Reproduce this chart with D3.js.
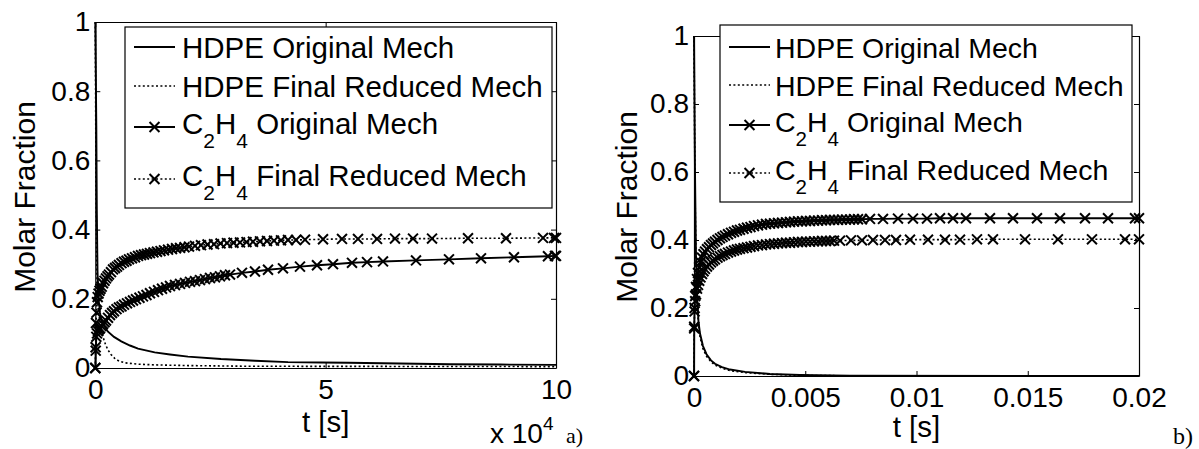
<!DOCTYPE html>
<html>
<head>
<meta charset="utf-8">
<script src="https://cdn.jsdelivr.net/npm/d3@7"></script>
<style>
  body { margin: 0; background: #fff; }
  svg { display: block; font-family: "Liberation Sans", Arial, Helvetica, sans-serif; }
</style>
</head>
<body>
<svg id="chart" width="1199" height="449"></svg>
<script>
// ---- panel a) : t in seconds (0 .. 1e5) ----
const aHdpeOrig = [[0,1],[110,0.85],[220,0.7],[330,0.45],[480,0.28],[700,0.2],[1020,0.16],[1300,0.139],[1890,0.122],[2760,0.105],[4060,0.09],[5640,0.077],[7530,0.065],[9270,0.056],[12890,0.045],[16210,0.039],[20120,0.033],[27290,0.026],[34660,0.021],[41830,0.017],[48990,0.016],[54850,0.015],[66140,0.013],[76990,0.011],[87840,0.01],[100000,0.009]];
const aHdpeRed = [[0,1],[65,0.8],[150,0.55],[280,0.33],[430,0.21],[650,0.17],[960,0.139],[1300,0.112],[1670,0.09],[2210,0.068],[2760,0.052],[3410,0.039],[4210,0.028],[5140,0.02],[6380,0.015],[9270,0.011],[12890,0.009],[20120,0.007],[33580,0.005],[100000,0.004]];
const aC2h4Orig = [[0,0],[90,0.05],[220,0.09],[370,0.1],[590,0.107],[800,0.112],[1020,0.115],[1350,0.121],[1670,0.127],[2000,0.132],[2320,0.137],[2760,0.145],[3190,0.153],[3630,0.159],[4060,0.164],[4600,0.17],[5140,0.175],[5690,0.178],[6230,0.183],[6880,0.187],[7530,0.191],[8180,0.195],[8830,0.199],[9590,0.203],[10350,0.207],[11110,0.211],[11870,0.216],[12740,0.22],[13610,0.225],[14480,0.229],[15350,0.233],[16210,0.237],[17300,0.24],[18390,0.243],[19470,0.246],[20560,0.249],[21640,0.251],[22730,0.254],[23810,0.257],[24900,0.26],[25980,0.262],[27070,0.265],[28150,0.268],[29240,0.27],[31840,0.275],[34660,0.279],[37490,0.284],[40740,0.288],[44430,0.293],[48120,0.297],[51600,0.3],[55720,0.304],[58980,0.306],[62450,0.308],[69610,0.311],[76770,0.314],[83720,0.317],[90880,0.32],[98260,0.323],[99780,0.324],[100000,0.324]];
const aC2h4Red = [[0,0],[65,0.06],[150,0.13],[260,0.16],[370,0.19],[520,0.205],[700,0.215],[910,0.223],[1130,0.229],[1390,0.235],[1670,0.245],[2000,0.252],[2320,0.259],[2650,0.265],[2970,0.27],[3410,0.277],[3840,0.285],[4280,0.289],[4710,0.293],[5140,0.298],[5690,0.303],[6230,0.307],[6770,0.31],[7320,0.314],[7970,0.317],[8620,0.32],[9270,0.324],[9920,0.326],[10570,0.328],[11220,0.33],[11870,0.332],[12630,0.334],[13390,0.336],[14150,0.338],[14910,0.34],[15780,0.342],[16650,0.344],[17520,0.346],[18390,0.347],[19360,0.349],[20340,0.351],[21640,0.353],[22940,0.355],[24360,0.357],[25770,0.358],[27180,0.36],[28590,0.361],[30000,0.362],[31410,0.363],[32820,0.364],[34230,0.365],[35750,0.366],[37270,0.367],[38790,0.368],[40310,0.369],[41830,0.37],[43570,0.37],[45520,0.371],[49430,0.372],[53550,0.373],[57020,0.373],[61150,0.373],[65050,0.374],[68960,0.374],[73090,0.374],[80900,0.375],[89150,0.375],[97180,0.376],[99570,0.376],[100000,0.376]];

// ---- panel b) : t in seconds (0 .. 0.02) ----
const bHdpeOrig = [[0,1],[0.000045,0.6],[0.00009,0.35],[0.000135,0.24],[0.000202,0.16],[0.00027,0.125],[0.000404,0.088],[0.000562,0.064],[0.000764,0.046],[0.000944,0.036],[0.001258,0.026],[0.001618,0.019],[0.002292,0.012],[0.003416,0.006],[0.004764,0.003],[0.00701,0.001],[0.02,0]];
const bHdpeRed = [[0,1],[0.000045,0.55],[0.00009,0.32],[0.000135,0.22],[0.000202,0.15],[0.00027,0.115],[0.000404,0.08],[0.000562,0.058],[0.000764,0.042],[0.000944,0.032],[0.001258,0.023],[0.001618,0.016],[0.002292,0.01],[0.003416,0.005],[0.004764,0.002],[0.00701,0.0005],[0.02,0]];
const bC2h4Orig = [[0,0],[0.000009,0.145],[0.000027,0.2],[0.000054,0.235],[0.00009,0.262],[0.000135,0.285],[0.00018,0.303],[0.000234,0.32],[0.000292,0.335],[0.00036,0.348],[0.000427,0.358],[0.000494,0.366],[0.000584,0.373],[0.000674,0.379],[0.000764,0.385],[0.000854,0.39],[0.000944,0.395],[0.001056,0.4],[0.001168,0.405],[0.001281,0.409],[0.001393,0.413],[0.001528,0.417],[0.001663,0.421],[0.001798,0.424],[0.001932,0.428],[0.002067,0.43],[0.002225,0.433],[0.002382,0.436],[0.002539,0.438],[0.002697,0.441],[0.002876,0.443],[0.003056,0.445],[0.003236,0.447],[0.003416,0.448],[0.003595,0.449],[0.003775,0.45],[0.003955,0.451],[0.004135,0.452],[0.004314,0.453],[0.004494,0.454],[0.004674,0.455],[0.004854,0.455],[0.005033,0.456],[0.005213,0.456],[0.005393,0.457],[0.005573,0.457],[0.005752,0.458],[0.005932,0.458],[0.006112,0.459],[0.006292,0.459],[0.006471,0.459],[0.006651,0.46],[0.006831,0.46],[0.007011,0.46],[0.00719,0.461],[0.00737,0.461],[0.00755,0.461],[0.00791,0.462],[0.008494,0.462],[0.009168,0.463],[0.009842,0.463],[0.010472,0.463],[0.011056,0.464],[0.01164,0.464],[0.012224,0.464],[0.013303,0.464],[0.014337,0.464],[0.015415,0.464],[0.016449,0.464],[0.017573,0.464],[0.018607,0.464],[0.01982,0.464],[0.02,0.464]];
const bC2h4Red = [[0,0],[0.000009,0.14],[0.000027,0.19],[0.000054,0.22],[0.00009,0.24],[0.000135,0.257],[0.00018,0.268],[0.000234,0.28],[0.000292,0.29],[0.00036,0.3],[0.000427,0.308],[0.000494,0.315],[0.000584,0.322],[0.000674,0.328],[0.000764,0.334],[0.000854,0.339],[0.000944,0.343],[0.001056,0.348],[0.001168,0.352],[0.001281,0.356],[0.001393,0.359],[0.001528,0.363],[0.001663,0.366],[0.001798,0.369],[0.001932,0.372],[0.002067,0.374],[0.002225,0.376],[0.002382,0.378],[0.002539,0.38],[0.002697,0.382],[0.002876,0.384],[0.003056,0.385],[0.003236,0.387],[0.003416,0.388],[0.003595,0.389],[0.003775,0.39],[0.003955,0.391],[0.004135,0.392],[0.004314,0.392],[0.004494,0.393],[0.004674,0.394],[0.004854,0.394],[0.005033,0.395],[0.005213,0.395],[0.005393,0.396],[0.005573,0.396],[0.005752,0.397],[0.005932,0.397],[0.006112,0.397],[0.006292,0.398],[0.006562,0.398],[0.007056,0.399],[0.00755,0.399],[0.008044,0.4],[0.008584,0.4],[0.009078,0.4],[0.009708,0.401],[0.010517,0.401],[0.01128,0.401],[0.011955,0.401],[0.012718,0.402],[0.013437,0.402],[0.014876,0.402],[0.016358,0.402],[0.017887,0.402],[0.019371,0.402],[0.02,0.402]];

// ---- ticks and labels ----
const yTicks = [0, 0.2, 0.4, 0.6, 0.8, 1];
const yTickLabels = ["0", "0.2", "0.4", "0.6", "0.8", "1"];
const aXTicks = [0, 50000, 100000];
const aXTickLabels = ["0", "5", "10"];
const bXTicks = [0, 0.005, 0.01, 0.015, 0.02];
const bXTickLabels = ["0", "0.005", "0.01", "0.015", "0.02"];
const legendNames = ["HDPE Original Mech", "HDPE Final Reduced Mech", "C_2H_4 Original Mech", "C_2H_4 Final Reduced Mech"];

const FS = 28;        // tick labels
const FS_TEXT = 29.5; // axis titles
const svg = d3.select("#chart");

// x marker, like MATLAB 'x'
const xMarker = d3.symbol().type(d3.symbolTimes).size(66);

function styleSeries(sel, dotted) {
	return sel.attr("fill", "none")
			  .attr("stroke", "#000")
			  .attr("stroke-width", dotted ? 1.6 : 1.9)
			  .attr("stroke-dasharray", dotted ? "2,2.4" : null);
}

function drawPanel(p) {
	const g = svg.append("g");

	const x = d3.scaleLinear().domain(p.xDomain).range([p.left, p.right]);
	const y = d3.scaleLinear().domain([0, 1]).range([p.bottom, p.top]);

	const line = d3.line().x(d => x(d[0])).y(d => y(d[1]));

	// curves
	p.series.forEach(s => {
		styleSeries(g.append("path").datum(s.data).attr("d", line), s.dotted);
		if (s.marker) {
			g.append("g").selectAll("path")
			 .data(s.data)
			 .join("path")
			 .attr("transform", d => `translate(${x(d[0])},${y(d[1])})`)
			 .attr("d", xMarker)
			 .attr("fill", "none")
			 .attr("stroke", "#000")
			 .attr("stroke-width", 2);
		}
	});

	// axes box, MATLAB-style inward ticks
	const tick = 5;
	const bottom = d3.axisBottom(x).tickValues(p.xTicks)
					 .tickFormat((d, i) => p.xTickLabels[i])
					 .tickSizeInner(-tick).tickSizeOuter(0).tickPadding(11);
	const top = d3.axisTop(x).tickValues(p.xTicks)
				  .tickSizeInner(-tick).tickSizeOuter(0);
	const left = d3.axisLeft(y).tickValues(yTicks)
				   .tickFormat((d, i) => yTickLabels[i])
				   .tickSizeInner(-tick).tickSizeOuter(0).tickPadding(5);
	const right = d3.axisRight(y).tickValues(yTicks)
					.tickSizeInner(-tick).tickSizeOuter(0);

	const labelled = [
		g.append("g").attr("transform", `translate(0,${p.bottom})`).call(bottom),
		g.append("g").attr("transform", `translate(${p.left},0)`).call(left)
	];
	const plain = [
		g.append("g").attr("transform", `translate(0,${p.top})`).call(top),
		g.append("g").attr("transform", `translate(${p.right},0)`).call(right)
	];
	// top and right axes carry ticks only
	plain.forEach(a => a.selectAll(".tick text").remove());

	labelled.concat(plain).forEach(a => {
		a.attr("font-family", null).attr("font-size", null);
		a.select(".domain").attr("stroke", "#000").attr("stroke-width", 1.2);
		a.selectAll(".tick line").attr("stroke", "#000").attr("stroke-width", 1);
		a.selectAll(".tick text").attr("fill", "#000").style("font-size", FS + "px");
	});

	// axis titles
	g.append("text")
	 .attr("transform", `translate(${p.yLabelX},${(p.top + p.bottom) / 2 + p.yLabelShift}) rotate(-90)`)
	 .attr("text-anchor", "middle")
	 .attr("dominant-baseline", "central")
	 .style("font-size", "30px")
	 .text("Molar Fraction");

	g.append("text")
	 .attr("x", (p.left + p.right) / 2)
	 .attr("y", p.xLabelY)
	 .attr("text-anchor", "middle")
	 .style("font-size", FS_TEXT + "px")
	 .text("t [s]");

	// legend
	const lg = g.append("g");
	lg.append("rect")
	  .attr("x", p.legend.x).attr("y", p.legend.y)
	  .attr("width", p.legend.w).attr("height", p.legend.h)
	  .attr("fill", "#fff").attr("stroke", "#000").attr("stroke-width", 1.2);

	p.series.forEach((s, i) => {
		const ly = p.legend.rows[i];
		const x0 = p.legend.x + 9, x1 = p.legend.x + 50;
		styleSeries(lg.append("line").attr("x1", x0).attr("x2", x1).attr("y1", ly).attr("y2", ly), s.dotted);
		if (s.marker) {
			lg.append("path")
			  .attr("transform", `translate(${(x0 + x1) / 2},${ly})`)
			  .attr("d", xMarker)
			  .attr("fill", "none").attr("stroke", "#000").attr("stroke-width", 2);
		}
		const hasSub = legendNames[i].includes("_");
		const t = lg.append("text")
					.attr("x", p.legend.x + p.legend.textDx)
					.attr("y", ly + (hasSub ? 7 : 10.5))
					.style("font-size", p.legend.fs + "px");
		// split "_2" style subscripts; the tspan after a subscript climbs back up
		let back = 0;
		legendNames[i].split(/(_\d)/).filter(part => part.length).forEach(part => {
			if (part.startsWith("_")) {
				t.append("tspan").attr("dy", 14 + back).style("font-size", p.legend.subFs + "px").text(part.slice(1));
				back = -14;
			} else {
				t.append("tspan").attr("dy", back).text(part);
				back = 0;
			}
		});
	});
}

drawPanel({
	xDomain: [0, 100000], left: 95.3, right: 556, top: 22, bottom: 368,
	xTicks: aXTicks, xTickLabels: aXTickLabels,
	yLabelX: 24, yLabelShift: 2, xLabelY: 432,
	series: [
		{ data: aHdpeOrig, dotted: false, marker: false },
		{ data: aHdpeRed, dotted: true, marker: false },
		{ data: aC2h4Orig, dotted: false, marker: true },
		{ data: aC2h4Red, dotted: true, marker: true }
	],
	legend: { x: 125, y: 27, w: 427, h: 181, rows: [47, 86, 127, 179], fs: 29.5, subFs: 21, textDx: 57 }
});

drawPanel({
	xDomain: [0, 0.02], left: 694, right: 1139, top: 36, bottom: 376,
	xTicks: bXTicks, xTickLabels: bXTickLabels,
	yLabelX: 626, yLabelShift: 1, xLabelY: 437,
	series: [
		{ data: bHdpeOrig, dotted: false, marker: false },
		{ data: bHdpeRed, dotted: true, marker: false },
		{ data: bC2h4Orig, dotted: false, marker: true },
		{ data: bC2h4Red, dotted: true, marker: true }
	],
	legend: { x: 720, y: 25, w: 412, h: 177, rows: [47, 85, 125, 173], fs: 28.5, subFs: 20.5, textDx: 55 }
});

// x 10^4 multiplier under panel a)
const mult = svg.append("text").attr("x", 490).attr("y", 443).style("font-size", FS + "px");
mult.append("tspan").text("x 10");
mult.append("tspan").attr("dy", -13).style("font-size", "19px").text("4");

// panel captions
svg.append("text").attr("x", 566).attr("y", 443)
   .style("font-family", "'Liberation Serif', 'Times New Roman', serif").style("font-size", "22px")
   .text("a)");
svg.append("text").attr("x", 1173).attr("y", 444)
   .style("font-family", "'Liberation Serif', 'Times New Roman', serif").style("font-size", "24px")
   .text("b)");
</script>
</body>
</html>
